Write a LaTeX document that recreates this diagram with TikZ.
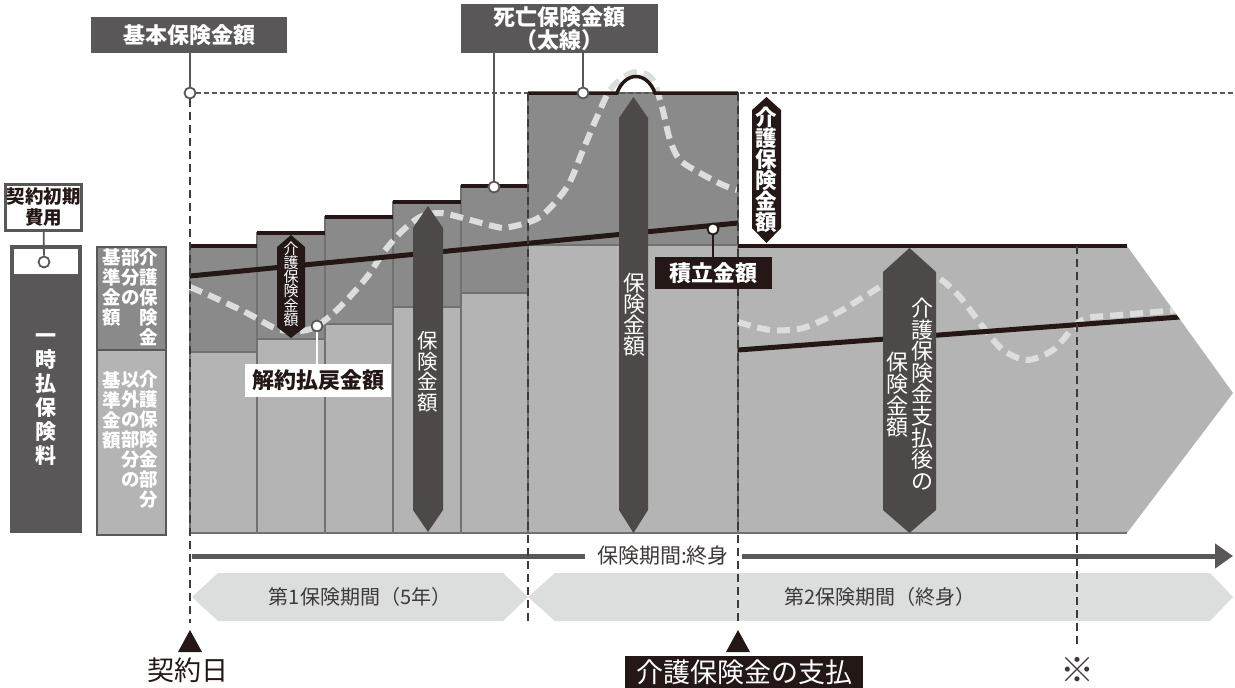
\documentclass[tikz,border=0pt]{standalone}
\usepackage{fontspec}
\setmainfont{Noto Sans CJK JP}
\usetikzlibrary{arrows.meta}

\definecolor{ink}{HTML}{231815}
\definecolor{dgray}{HTML}{595757}
\definecolor{agray}{HTML}{4C4948}
\definecolor{mgray}{HTML}{8A8A8A}
\definecolor{lgray}{HTML}{B4B4B5}
\definecolor{pale}{HTML}{DCDDDD}
\definecolor{rim}{HTML}{727171}
\definecolor{txt}{HTML}{3E3A39}
\newcommand\fsz[2]{\fontsize{#1}{#2}\selectfont}

\begin{document}
\begin{tikzpicture}[x=1pt,y=-1pt,
	ring/.style={circle,draw=dgray,fill=white,line width=1.8pt,minimum size=11pt,inner sep=0pt},
	tag/.style={fill=dgray,text=white,font=\fsz{22}{23}\bfseries,align=center,inner sep=0pt},
	lead/.style={draw=dgray,line width=1.8pt},
	topline/.style={draw=ink,line width=3.5pt},
	barbox/.style={draw=rim,line width=1.4pt},
	guide/.style={draw=txt,line width=2pt,dash pattern=on 8pt off 5pt},
	surr/.style={draw=pale,line width=6pt,dash pattern=on 13pt off 7pt},
	vtxt/.style={text=white,align=center,inner sep=0pt}]
		\useasboundingbox (0,0) rectangle (1235,688);
		% left: premium and its parts
		\node[draw=dgray,line width=2.5pt,fill=white,text=ink,font=\fsz{18.5}{21}\bfseries,align=center,inner sep=0pt,minimum width=76pt,minimum height=46pt] (fee) at (43.5,207.5) {契約初期\\費用};
		\fill[dgray] (10,245) rectangle (82,533);
		\fill[white] (14,249) rectangle (78,274);
		\node[ring] (feedot) at (44,262) {};
		\draw[lead] (fee) -- (feedot);
		\node[vtxt,font=\fsz{21}{24}\bfseries] (prem) at (46,400) {一\\時\\払\\保\\険\\料};
		\filldraw[fill=mgray,draw=dgray,line width=1.4pt] (97,247) rectangle (166,350);
		\filldraw[fill=lgray,draw=dgray,line width=1.4pt] (97,350) rectangle (166,535);
		\node[vtxt,font=\fsz{18.5}{20}\bfseries] (u1) at (149,297) {介\\護\\保\\険\\金};
		\node[vtxt,font=\fsz{18.5}{20}\bfseries] (u2) at (130.5,277) {部\\分\\の};
		\node[vtxt,font=\fsz{18.5}{20}\bfseries] (u3) at (112,287) {基\\準\\金\\額};
		\node[vtxt,font=\fsz{18.5}{20}\bfseries] (l1) at (149,440) {介\\護\\保\\険\\金\\部\\分};
		\node[vtxt,font=\fsz{18.5}{20}\bfseries] (l2) at (130.5,430) {以\\外\\の\\部\\分\\の};
		\node[vtxt,font=\fsz{18.5}{20}\bfseries] (l3) at (112,410) {基\\準\\金\\額};
		% bars
		\fill[lgray] (738,246) -- (1127,246) -- (1233,393) -- (1127,533) -- (738,533) -- cycle;
		\draw[barbox] (738,533) -- (1127,533);
		\foreach \xa/\xb/\ya/\yb in {190/257/246/352,257/325/233/339,325/393/217/324,393/461/202/307,461/528/186/293,528/738/93/245}{
			\filldraw[barbox,fill=mgray] (\xa,\ya) rectangle (\xb,\yb);
			\filldraw[barbox,fill=lgray] (\xa,\yb) rectangle (\xb,533);
		}
		% after the care payment
		\begin{scope}
			\clip (738,246) -- (1127,246) -- (1233,393) -- (1127,533) -- (738,533) -- cycle;
			\draw[surr] plot[smooth] coordinates {(738,322) (770,330) (803,328) (837,313) (870,293) (909,271) (937,277) (960,297) (983,327) (1003,350) (1027,360) (1053,350) (1073,328) (1087,318) (1120,315) (1200,308)};
			\draw[ink,line width=5pt] (738,350) -- (1200,315.5);
		\end{scope}
		\draw[surr] plot[smooth] coordinates {(190,287) (213,297) (247,313) (277,329) (300,331) (317,326) (340,307) (367,277) (383,253) (400,233) (420,217) (440,213) (463,218) (497,227) (510,227) (540,217) (567,187) (583,150) (597,117) (610,90) (627,75) (640,72) (653,80) (662,107) (670,140) (680,160) (700,173) (723,185) (737,190)};
		% base amount
		\node[ring] (d0) at (190,93) {};
		\coordinate (far) at (1235,93);
		\draw[dgray,line width=2.5pt,dash pattern=on 5pt off 3pt] (d0) -- (far);
		% death benefit and reserve
		\draw[ink,line width=5pt] (190,276) -- (738,223);
		\foreach \xa/\xb/\ya in {190/257/246,257/325/233,325/393/217,393/461/202,461/528/186,738/1127/246}
			\draw[topline] (\xa,\ya) -- (\xb,\ya);
		\draw[topline] (528,93) -- (617,93) .. controls (625,71) and (647,71) .. (655,93) -- (738,93);
		% time axis
		\coordinate (t0) at (192,556);
		\coordinate (t1) at (1233,556);
		\draw[dgray,line width=5pt,-{Triangle[length=18pt,width=24pt]}] (t0) -- (t1);
		\node[fill=white,text=txt,font=\fsz{21}{21},minimum width=157pt,inner ysep=2pt] (term) at (663,556) {保険期間:終身};
		\fill[pale] (192,597) -- (218,573) -- (503,573) -- (528,597) -- (503,621) -- (218,621) -- cycle;
		\fill[pale] (528,597) -- (555,573) -- (1210,573) -- (1233,597) -- (1210,621) -- (555,621) -- cycle;
		\node[text=txt,font=\fsz{20}{20}] (p1) at (360,597) {第1保険期間（5年）};
		\node[text=txt,font=\fsz{20}{20}] (p2) at (880,597) {第2保険期間（終身）};
		% guides
		\coordinate (g0) at (190,623);
		\coordinate (g1) at (528,623);
		\coordinate (g2) at (738,623);
		\draw[guide] (d0) -- (g0);
		\draw[guide] (528,93) -- (g1);
		\draw[guide] (738,93) -- (g2);
		\draw[guide] (1077,246) -- (1077,648);
		\fill[ink] (190,630) -- (202,652) -- (178,652) -- cycle;
		\fill[ink] (738,630) -- (750,652) -- (726,652) -- cycle;
		\node[text=ink,font=\fsz{27}{27}] (day) at (188,670) {契約日};
		\node[fill=ink,text=white,font=\fsz{27}{27},minimum width=238pt,minimum height=32pt,inner sep=0pt] (pay) at (744,672) {介護保険金の支払};
		\node[text=txt,font=\fsz{34}{34}] (note) at (1077,670) {※};
		% amount arrows
		\fill[ink] (291,235) -- (305,247) -- (305,327) -- (291,338) -- (277,327) -- (277,247) -- cycle;
		\node[vtxt,font=\fsz{15}{13.8}] (c1) at (291,284) {介\\護\\保\\険\\金\\額};
		\fill[agray] (428,206) -- (443,228) -- (443,510) -- (428,532) -- (413,510) -- (413,228) -- cycle;
		\node[vtxt,font=\fsz{20.5}{20.5}] (s1) at (428,372) {保\\険\\金\\額};
		\fill[agray] (633.5,97) -- (648,118) -- (648,510) -- (633.5,533) -- (619,510) -- (619,118) -- cycle;
		\node[vtxt,font=\fsz{22}{21}] (s2) at (634,315) {保\\険\\金\\額};
		\fill[ink] (766.5,97) -- (781,110) -- (781,228) -- (766.5,243) -- (752,228) -- (752,110) -- cycle;
		\node[vtxt,font=\fsz{21.5}{21}\bfseries] (c2) at (766.5,170) {介\\護\\保\\険\\金\\額};
		\fill[agray] (909.5,248) -- (936,272) -- (936,510) -- (909.5,533) -- (883,510) -- (883,272) -- cycle;
		\node[vtxt,font=\fsz{22}{21.6}] (s3a) at (922,394) {介\\護\\保\\険\\金\\支\\払\\後\\の};
		\node[vtxt,font=\fsz{22}{21.6}] (s3b) at (897,395) {保\\険\\金\\額};
		% labels
		\node[tag,minimum width=196pt,minimum height=36pt] (base) at (189,35) {基本保険金額};
		\draw[lead] (base.south -| d0) -- (d0);
		\node[tag,minimum width=197pt,minimum height=49pt] (death) at (559.5,28.5) {死亡保険金額\\（太線）};
		\node[ring] (d5) at (494,187) {};
		\node[ring] (d6) at (583,93) {};
		\draw[lead] (death.south -| d5) -- (d5);
		\draw[lead] (death.south -| d6) -- (d6);
		\node[ring,draw=ink] (dres) at (713,229) {};
		\node[fill=ink,text=white,font=\fsz{22}{22}\bfseries,minimum width=117pt,minimum height=32pt,inner sep=0pt] (res) at (713.5,273) {積立金額};
		\draw[ink,line width=1.8pt] (res.north -| dres) -- (dres);
		\node[ring] (dsur) at (317,326) {};
		\node[fill=white,text=ink,font=\fsz{22}{22}\bfseries,minimum width=146pt,minimum height=33pt,inner sep=0pt] (surv) at (318,380.5) {解約払戻金額};
		\draw[white,line width=1.8pt] (surv.north -| dsur) -- (dsur);
	\end{tikzpicture}
\end{document}
